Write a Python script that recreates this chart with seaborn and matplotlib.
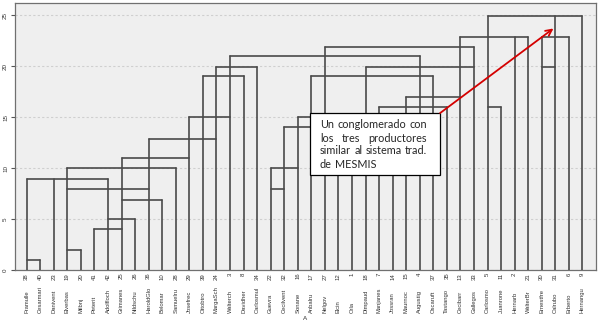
import numpy as np
import pandas as pd
import matplotlib.pyplot as plt
import seaborn as sns

# leaves, left to right
names = ['Framulle', 'Cesarmari', 'Danivent', 'Elverbas', 'Milbnj', 'Peterit', 'Adolfloch',
         'Grimanes', 'Nildschu', 'HaroldGlo', 'Belomar', 'Samuelru', 'Josefrec', 'Ottobtro',
         'MargaSch', 'Walterch', 'Davidher', 'Carlosmul', 'Guevra', 'Cecilvent', 'Sonane',
         'Anbalru', 'Nelgov', 'Elcin', 'Orla', 'Dimpaud', 'Manjanes', 'Jossran', 'Maurnoc',
         'Augustig', 'Oscaruft', 'Tastango', 'Cecibarr', 'Gallegos', 'Carlosmo', 'Juanrone',
         'Hernarb', 'WalterBr', 'Ernestfre', 'Calrubo', 'Erberto', 'Hernangu']
case_ids = [38, 40, 23, 19, 20, 41, 42, 25, 26, 36, 10, 28, 29, 39, 24, 3, 8, 34, 22, 32, 16,
            17, 27, 12, 1, 18, 7, 14, 15, 4, 37, 35, 13, 33, 5, 11, 2, 21, 30, 31, 6, 9]

# height reached by each leaf's stem
leaf_top = [8.9, 1.0, 8.9, 10.0, 2.0, 4.0, 8.9, 11.0, 5.0, 12.9, 6.9, 10.0, 15.0, 19.0,
            19.9, 21.0, 19.0, 19.9, 10.0, 14.0, 15.0, 19.0, 21.9, 14.0, 15.0, 19.9, 16.0,
            14.0, 17.0, 21.0, 19.0, 16.0, 22.9, 21.9, 24.9, 16.0, 22.9, 22.9, 22.9, 24.9,
            22.9, 24.9]

# joins: (left leaf, right leaf, distance)
merges = [(0, 1, 1.0), (3, 4, 2.0), (5, 7, 4.0), (6, 8, 5.0), (7, 10, 6.9), (18, 19, 7.9),
          (3, 9, 7.9), (0, 6, 8.9), (3, 11, 10.0), (18, 20, 10.0), (7, 12, 11.0),
          (9, 14, 12.9), (19, 23, 14.0), (12, 15, 15.0), (20, 24, 15.0), (26, 31, 16.0),
          (34, 35, 16.0), (28, 32, 17.0), (13, 16, 19.0), (21, 30, 19.0), (14, 17, 19.9),
          (25, 33, 19.9), (38, 39, 19.9), (15, 29, 21.0), (22, 33, 21.9), (32, 37, 22.9),
          (38, 40, 22.9), (34, 41, 24.9)]

note_lines = [['Un', 'conglomerado', 'con'], ['los', 'tres', 'productores'],
              ['similar', 'al', 'sistema', 'trad.'], ['de', 'MESMIS']]

# segments table
rows = []
for i, top in enumerate(leaf_top):
    rows += [(f'v{i}', i, 0.0), (f'v{i}', i, top)]
for k, (a, b, h) in enumerate(merges):
    rows += [(f'h{k}', a, h), (f'h{k}', b, h)]
seg = pd.DataFrame(rows, columns=['seg', 'x', 'y'])

sns.set_style('white', {'axes.facecolor': '#efefef', 'axes.edgecolor': '#707070'})
plt.rcParams['font.family'] = ['Liberation Sans', 'DejaVu Sans']

W, H = 604, 329
fig = plt.figure(figsize=(W / 100, H / 100), dpi=100)
ax = fig.add_axes([15 / W, 1 - 270 / H, 581 / W, 267 / H])

sns.lineplot(data=seg, x='x', y='y', units='seg', estimator=None, sort=False,
             color='#4a4a4a', lw=1.2, ax=ax, zorder=3)

ax.set_xlim(-0.86, 42.0)
ax.set_ylim(0, 26.2)
ax.set_xlabel('')
ax.set_ylabel('')
for s in ax.spines.values():
    s.set_linewidth(0.9)

ax.set_xticks(range(len(case_ids)))
ax.set_xticklabels(case_ids, rotation=90, fontsize=4.3, color='#333333')
ax.tick_params(axis='x', length=0, pad=2)
ax.set_yticks([0, 5, 10, 15, 20, 25])
ax.set_yticklabels(['0', '5', '10', '15', '20', '25'], rotation=90, va='center',
                   fontsize=4.5, color='#333333')
ax.tick_params(axis='y', length=3, width=0.8, color='#555555', pad=2, left=True)
ax.yaxis.grid(True, ls=(0, (2, 2)), color='#cfcfcf', lw=0.8)
ax.xaxis.grid(False)
ax.set_axisbelow(True)

xt = ax.get_xaxis_transform()
for i, n in enumerate(names):
    ax.text(i, (270 - 313) / 267, n, rotation=90, ha='center', va='bottom',
            fontsize=4.2, color='#333333', transform=xt, clip_on=False)
ax.text(0.5, (270 - 318) / 267, 'A', ha='center', va='center', fontsize=4.5,
        color='#333333', transform=ax.transAxes, clip_on=False)

# note box and arrow
box = plt.Rectangle(((310 - 15) / 581, (270 - 175) / 267), 130 / 581, 62 / 267,
                    transform=ax.transAxes, facecolor='white', edgecolor='black',
                    lw=0.9, zorder=5)
ax.add_patch(box)
ax.annotate('', xy=(38.86, 23.7), xytext=(30.5, 15.4),
            arrowprops=dict(arrowstyle='->', color='#d40000', lw=1.3,
                            mutation_scale=11, shrinkA=0, shrinkB=0), zorder=6)

fig.canvas.draw()
r = fig.canvas.get_renderer()
x0, x1 = 320, 427
for j, words in enumerate(note_lines):
    yy = 1 - (125 + 13 * j) / H
    ts = [fig.text(0, yy, w, fontsize=7.8, va='center', family=['Lato', 'DejaVu Sans'],
                   zorder=7) for w in words]
    widths = [t.get_window_extent(r).width for t in ts]
    if j < len(note_lines) - 1:
        gap = (x1 - x0 - sum(widths)) / (len(words) - 1)
    else:
        gap = 3
    x = x0
    for t, w in zip(ts, widths):
        t.set_x(x / W)
        x += w + gap

fig.savefig('out.png', dpi=100)
